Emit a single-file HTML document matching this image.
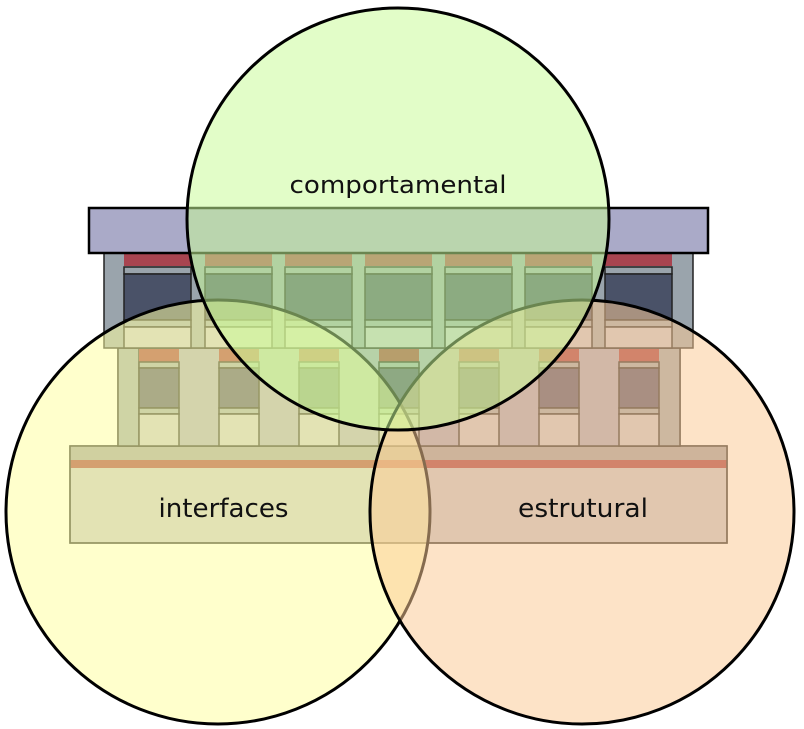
<!DOCTYPE html>
<html><head><meta charset="utf-8"><style>html,body{margin:0;padding:0;background:#fff}svg{display:block}</style></head>
<body>
<svg width="804" height="729" viewBox="0 0 804 729" xmlns="http://www.w3.org/2000/svg">
<g stroke="#222" stroke-width="1.5">
<rect x="70" y="446" width="657" height="97" fill="#c4c4cc"/>
<rect x="70" y="446" width="657" height="14" fill="#9b9ba2" stroke="none"/>
<rect x="70" y="460" width="657" height="8" fill="#a4353c" stroke="none"/>
<rect x="70" y="446" width="657" height="97" fill="none"/>
<rect x="118" y="348" width="562" height="98" fill="#a4a4bc"/>
<rect x="118" y="348" width="21" height="98" fill="#9aa4ac"/>
<rect x="658" y="348" width="22" height="98" fill="#9aa4ac"/>
<g id="lw">
<rect x="139" y="349" width="40" height="13" fill="#a4353c" stroke="none"/>
<rect x="139" y="362" width="40" height="6" fill="#9aa4ac"/>
<rect x="139" y="368" width="40" height="40" fill="#4e4e6e"/>
<rect x="139" y="408" width="40" height="6" fill="#9aa4ac"/>
<rect x="139" y="414" width="40" height="32" fill="#c4c4cc"/>
</g>
<use href="#lw" x="80"/><use href="#lw" x="160"/><use href="#lw" x="240"/><use href="#lw" x="320"/><use href="#lw" x="400"/><use href="#lw" x="480"/>
<rect x="104" y="253" width="589" height="95" fill="#9aa4ac"/>
<g id="uw">
<rect x="124" y="254" width="67" height="12" fill="#a84450" stroke="none"/>
<rect x="124" y="267" width="67" height="7" fill="#9aa4ac"/>
<rect x="124" y="274" width="67" height="46" fill="#4a5268"/>
<rect x="124" y="320" width="67" height="7" fill="#9aa4ac"/>
<rect x="124" y="327" width="67" height="21" fill="#c4c4cc"/>
</g>
<use href="#uw" x="81"/><use href="#uw" x="161"/><use href="#uw" x="241"/><use href="#uw" x="321"/><use href="#uw" x="401"/><use href="#uw" x="481"/>
<rect x="89" y="208" width="619" height="45" fill="#aaaac8" stroke="#000" stroke-width="2.5"/>
</g>
<circle cx="218" cy="512" r="212" fill="rgb(255,255,158)" fill-opacity="0.53" stroke="#000" stroke-width="3"/>
<circle cx="582" cy="512" r="212" fill="rgb(251,202,149)" fill-opacity="0.53" stroke="#000" stroke-width="3"/>
<circle cx="398" cy="219" r="211" fill="rgb(200,251,151)" fill-opacity="0.53" stroke="#000" stroke-width="3"/>
<g font-family="DejaVu Sans, Liberation Sans, sans-serif" font-size="25.5" fill="#111" text-anchor="middle">
<text x="398" y="193" textLength="217" lengthAdjust="spacingAndGlyphs" font-size="24">comportamental</text>
<text x="223.5" y="517" textLength="130" lengthAdjust="spacingAndGlyphs">interfaces</text>
<text x="583" y="517" textLength="130" lengthAdjust="spacingAndGlyphs">estrutural</text>
</g>
</svg>
</body></html>
